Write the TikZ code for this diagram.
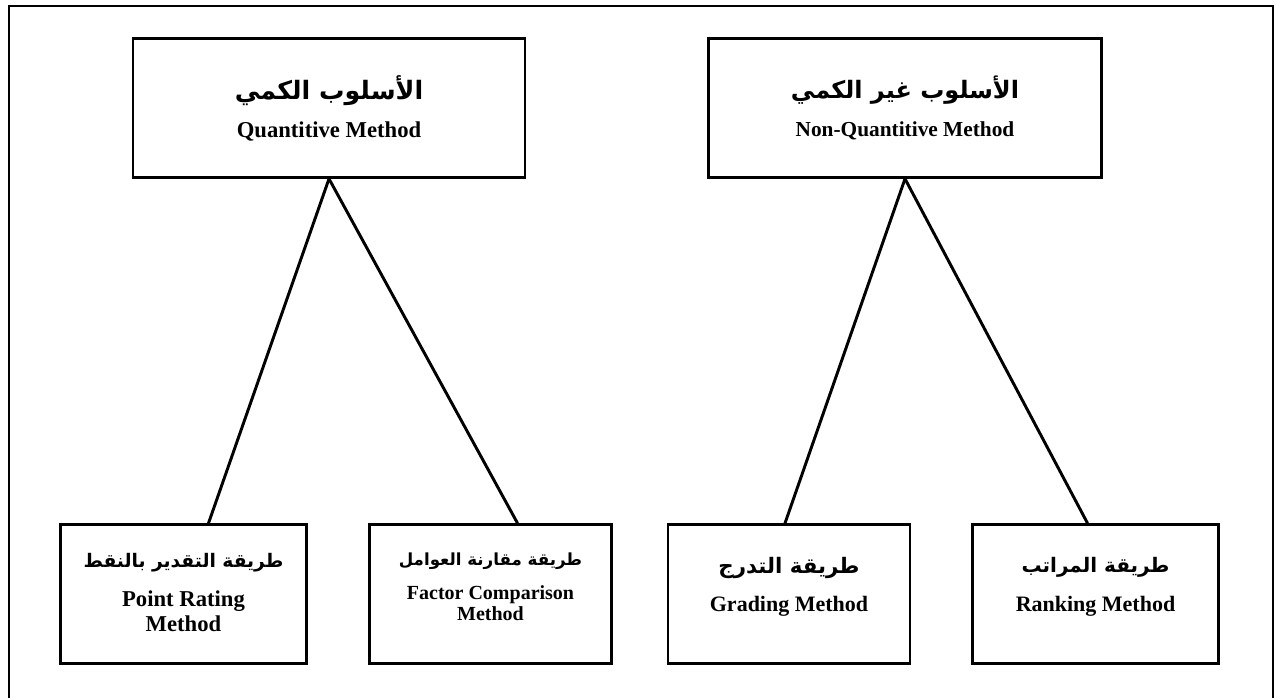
\documentclass[tikz,border=0pt]{standalone}
\usepackage{fontspec}
\setmainfont{Liberation Serif}
\newfontfamily\arabicfont[Script=Arabic]{DejaVu Sans}
\TeXXeTstate=1
\usetikzlibrary{calc}
\tikzset{
	methodbox/.style={draw, line width=2.2pt, inner sep=0pt, minimum height=104pt},
	arabtxt/.style={font=\arabicfont\bfseries\fontsize{16}{19}\selectfont, inner sep=0pt},
	latintxt/.style={font=\bfseries\fontsize{16.5}{19}\selectfont, align=center, inner sep=0pt},
	link/.style={line width=2.2pt},
}

\begin{document}
\begin{tikzpicture}[x=0.75pt,y=-0.75pt]
		\useasboundingbox (0,0) rectangle (1276,698);
		\clip (0,0) rectangle (1276,698);
		\draw[line width=2.2pt] (9,6) rectangle (1273,712);
		% top boxes
		\node (Q)[methodbox, minimum width=294pt] at (329,108){};
		\node (N)[methodbox, minimum width=295pt] at (905,108){};
		\node (Qa)[arabtxt, font=\arabicfont\bfseries\fontsize{19}{22}\selectfont] at ($(Q.north)+(0,53)$){\beginR الأسلوب الكمي\endR};
		\node (Ql)[latintxt, font=\bfseries\fontsize{17}{20}\selectfont] at ($(Q.north)+(0,94)$){Quantitive Method};
		\node (Na)[arabtxt, font=\arabicfont\bfseries\fontsize{18}{22}\selectfont] at ($(N.north)+(0,53)$){\beginR الأسلوب غير الكمي\endR};
		\node (Nl)[latintxt, font=\bfseries\fontsize{16}{19}\selectfont] at ($(N.north)+(0,94)$){Non-Quantitive Method};
		%
		% bottom boxes
		\node (P)[methodbox, minimum width=185pt] at (183.5,594){};
		\node (F)[methodbox, minimum width=182pt] at (490.5,594){};
		\node (G)[methodbox, minimum width=181.5pt] at (789,594){};
		\node (R)[methodbox, minimum width=184pt] at (1095.5,594){};
		\node (Pa)[arabtxt, font=\arabicfont\bfseries\fontsize{14}{17}\selectfont] at ($(P.north)+(0,39)$){\beginR طريقة التقدير بالنقط\endR};
		\node (Pl)[latintxt, font=\bfseries\fontsize{17}{19}\selectfont] at ($(P.north)+(0,88)$){Point Rating\\Method};
		\node (Fa)[arabtxt, font=\arabicfont\bfseries\fontsize{12.5}{15}\selectfont] at ($(F.north)+(0,38)$){\beginR طريقة مقارنة العوامل\endR};
		\node (Fl)[latintxt, font=\bfseries\fontsize{15}{16}\selectfont] at ($(F.north)+(0,80)$){Factor Comparison\\Method};
		\node (Ga)[arabtxt] at ($(G.north)+(0,45)$){\beginR طريقة التدرج\endR};
		\node (Gl)[latintxt] at ($(G.north)+(0,83)$){Grading Method};
		\node (Ra)[arabtxt, font=\arabicfont\bfseries\fontsize{15}{18}\selectfont] at ($(R.north)+(0,44)$){\beginR طريقة المراتب\endR};
		\node (Rl)[latintxt] at ($(R.north)+(0,83)$){Ranking Method};
		%
		\draw[link] (Q.south) -- ($(P.north)+(25,0)$);
		\draw[link] (Q.south) -- ($(F.north)+(27,0)$);
		\draw[link] (N.south) -- ($(G.north)+(-4,0)$);
		\draw[link] (N.south) -- ($(R.north)+(-8,0)$);
\end{tikzpicture}
\end{document}
